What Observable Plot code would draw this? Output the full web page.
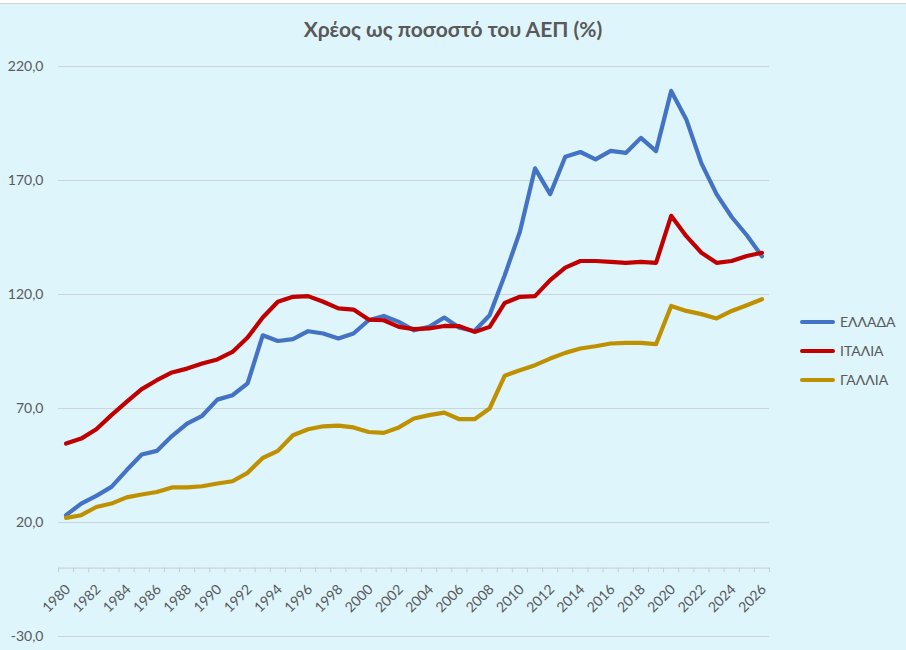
<!DOCTYPE html>
<html><head><meta charset="utf-8">
<script src="https://cdn.jsdelivr.net/npm/d3@7"></script>
<script src="https://cdn.jsdelivr.net/npm/@observablehq/plot@0.6"></script>
<style>
html,body{margin:0;padding:0;background:#def5fc;}
#wrap{position:relative;width:906px;height:650px;overflow:hidden;background:#def5fc;font-family:Lato,"Open Sans",sans-serif;color:#595959;}
#topbar{position:absolute;left:0;top:0;width:906px;height:3px;background:#fff;border-bottom:1px solid #d4d4d4;z-index:2}
#title{position:absolute;left:0;top:16px;width:906px;text-align:center;font-size:21px;font-weight:700;z-index:2}
#legend{position:absolute;left:800px;top:307px;z-index:2}
.item{display:flex;align-items:center;height:29px;font-size:14px}
.sw{width:35px;height:4px;border-radius:2px;margin-right:5px}
#chart svg{position:absolute;left:0;top:0}
</style></head>
<body>
<div id="wrap">
  <div id="topbar"></div>
  <div id="title">Χρέος ως ποσοστό του ΑΕΠ (%)</div>
  <div id="chart"></div>
  <div id="legend"></div>
</div>
<script>
const years = [1980,1981,1982,1983,1984,1985,1986,1987,1988,1989,
  1990,1991,1992,1993,1994,1995,1996,1997,1998,1999,
  2000,2001,2002,2003,2004,2005,2006,2007,2008,2009,
  2010,2011,2012,2013,2014,2015,2016,2017,2018,2019,
  2020,2021,2022,2023,2024,2025,2026];
const countries = ["ΕΛΛΑΔΑ", "ΙΤΑΛΙΑ", "ΓΑΛΛΙΑ"];
const colors = ["#4472C4", "#C00000", "#BF9000"];
const greece = [23.2,28.3,31.7,35.6,42.9,49.8,51.4,57.9,63.4,66.8,
  73.9,75.8,81.0,102.1,99.6,100.4,103.9,102.9,100.7,102.9,
  108.7,110.6,108.0,104.3,105.8,109.9,105.4,104.0,110.9,128.5,
  147.5,175.3,164.0,180.4,182.5,179.3,183.0,182.1,188.7,182.9,
  209.3,196.8,177.5,164.0,154.0,146.0,136.8];
const italy = [54.6,56.8,60.9,67.1,72.9,78.5,82.4,85.8,87.5,89.7,
  91.5,94.8,101.1,109.9,116.8,119.0,119.3,116.8,113.9,113.4,
  109.0,108.7,105.8,104.8,105.1,106.2,106.1,103.6,105.8,116.3,
  119.0,119.3,126.3,131.8,134.7,134.7,134.3,133.9,134.3,133.9,
  154.5,145.6,138.3,133.9,134.7,136.9,138.3];
const france = [22.0,23.2,26.8,28.3,31.0,32.3,33.4,35.4,35.4,35.9,
  37.1,38.1,41.8,48.3,51.4,58.3,60.9,62.2,62.5,61.7,
  59.7,59.3,61.7,65.6,67.1,68.2,65.3,65.3,70.0,84.4,
  86.8,89.0,91.9,94.4,96.3,97.3,98.5,98.8,98.8,98.2,
  115.0,112.8,111.4,109.5,112.8,115.3,117.9];
const yTicks = [-30, 20, 70, 120, 170, 220];
const xLabelYears = [1980,1982,1984,1986,1988,1990,1992,1994,1996,1998,2000,2002,2004,2006,2008,2010,2012,2014,2016,2018,2020,2022,2024,2026];

const series = [greece, italy, france];
const rows = [];
series.forEach((vals, i) => vals.forEach((v, j) => rows.push({country: countries[i], year: years[j], value: v})));
const boundaries = years.map(y => y - 0.5).concat([years[years.length - 1] + 0.5]);
const fmt = d => d.toFixed(1).replace(".", ",");
const font = 'Lato, "Open Sans", sans-serif';

const chart = Plot.plot({
  width: 906, height: 650,
  marginLeft: 58, marginRight: 137, marginTop: 66, marginBottom: 14,
  x: {domain: [boundaries[0], boundaries[boundaries.length - 1]], axis: null},
  y: {domain: [yTicks[0], yTicks[yTicks.length - 1]], axis: null},
  color: {domain: countries, range: colors},
  style: {background: "transparent", fontFamily: font, color: "#595959", fontSize: "13px", overflow: "visible"},
  marks: [
    Plot.ruleY(yTicks, {stroke: "#cbd5da", strokeWidth: 1}),
    Plot.axisY({ticks: yTicks, tickFormat: fmt, tickSize: 0, tickPadding: 15, label: null, fontSize: 14, fill: "#595959"}),
    Plot.ruleY([0], {stroke: "#c3cdd2", strokeWidth: 1}),
    Plot.ruleX(boundaries, {y1: 0, y2: -2, stroke: "#c3cdd2", strokeWidth: 1}),
    Plot.line(rows, {x: "year", y: "value", stroke: "country", z: "country", strokeWidth: 4.2, strokeLinejoin: "round", strokeLinecap: "round"}),
    Plot.text(xLabelYears, {x: d => d, y: () => 0, text: d => String(d), rotate: -45, textAnchor: "end", dx: 2, dy: 19, fontSize: 14, fill: "#595959"})
  ]
});
document.getElementById("chart").appendChild(chart);

const legend = document.getElementById("legend");
countries.forEach((c, i) => {
  const it = document.createElement("div");
  it.className = "item";
  it.innerHTML = `<span class="sw" style="background:${colors[i]}"></span><span>${c}</span>`;
  legend.appendChild(it);
});
</script>
</body></html>
